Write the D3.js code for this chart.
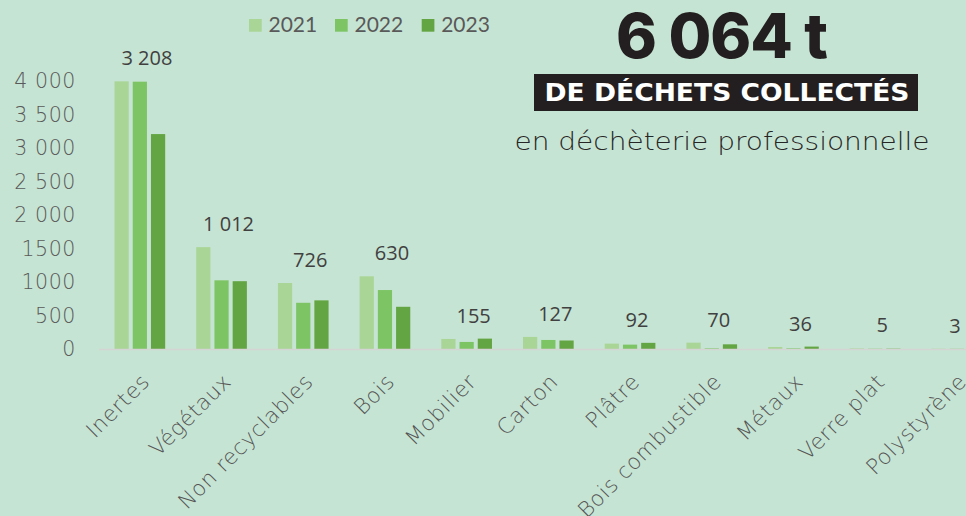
<!DOCTYPE html>
<html>
<head>
<meta charset="utf-8">
<script src="https://cdn.jsdelivr.net/npm/d3@7.9.0/dist/d3.min.js"></script>
<style>
  body { margin: 0; background: #c6e4d3; }
  svg { display: block; }
</style>
</head>
<body>
<svg id="chart" width="966" height="516"></svg>
<script>
const categories = ['Inertes', 'Végétaux', 'Non recyclables', 'Bois', 'Mobilier', 'Carton',
    'Plâtre', 'Bois combustible', 'Métaux', 'Verre plat', 'Polystyrène'];
const years = ['2021', '2022', '2023'];
const values2021 = [3995, 1520, 985, 1085, 150, 180, 80, 95, 30, 8, 4];
const values2022 = [3990, 1025, 690, 880, 105, 135, 65, 10, 10, 4, 3];
const values2023 = [3208, 1012, 726, 630, 155, 127, 92, 70, 36, 5, 3];
const yTicks = [0, 500, 1000, 1500, 2000, 2500, 3000, 3500, 4000];
const yTickLabels = ['0', '500', '1000', '1500', '2 000', '2 500', '3 000', '3 500', '4 000'];
const colors = ['#a9d596', '#7dc564', '#64a543'];

let series = [values2021, values2022, values2023];
let svg = d3.select('#chart');

let x0 = d3.scaleBand()
    .domain(categories)
    .range([99, 99 + 11 * 81.7])
    .paddingInner(0.38)
    .paddingOuter(0.19);

let x1 = d3.scaleBand()
    .domain(years)
    .range([0, x0.bandwidth()])
    .paddingInner(0.22);

let y = d3.scaleLinear().domain([0, 4000]).range([349, 81]);

let fr = d3.formatLocale({ decimal: ',', thousands: ' ', grouping: [3], currency: ['', ' €'] });
let fmt = fr.format(',d');

// y axis labels
let yAxis = d3.axisLeft(y)
    .tickValues(yTicks)
    .tickFormat((d, i) => yTickLabels[i])
    .tickSize(0)
    .tickPadding(0);

let yg = svg.append('g')
    .attr('transform', 'translate(76,0)')
    .call(yAxis);
yg.select('.domain').remove();
yg.selectAll('text')
    .attr('fill', '#595959')
    .attr('font-family', 'DejaVu Sans')
    .attr('font-weight', 200)
    .attr('font-size', 20.5)
    .attr('letter-spacing', 0.6);

// bars
categories.forEach((cat, i) => {
    let g = svg.append('g').attr('transform', `translate(${x0(cat)},0)`);
    years.forEach((yr, j) => {
        let v = series[j][i];
        g.append('rect')
            .attr('x', x1(yr))
            .attr('y', y(v))
            .attr('width', x1.bandwidth())
            .attr('height', y(0) - y(v))
            .attr('fill', colors[j]);
    });

    let cx = x0(cat) + x0.bandwidth() / 2;

    // total label (2023 value)
    let top = d3.max(series, (s) => s[i]);
    svg.append('text')
        .attr('x', Math.min(cx + 7, 955))
        .attr('y', y(top) - 16)
        .attr('text-anchor', 'middle')
        .attr('fill', '#404040')
        .attr('font-family', 'Open Sans')
        .attr('font-size', 20)
        .text(fmt(values2023[i]));

    // category label
    svg.append('text')
        .attr('transform', `translate(${cx + 11},383) rotate(-45)`)
        .attr('text-anchor', 'end')
        .attr('fill', '#555555')
        .attr('font-family', 'DejaVu Sans')
        .attr('font-size', 21.5)
        .attr('letter-spacing', 0.6)
        .style('font-weight', 300)
        .text(cat);
});

// baseline
svg.append('line')
    .attr('x1', 99).attr('x2', 966)
    .attr('y1', y(0) + 0.5).attr('y2', y(0) + 0.5)
    .attr('stroke', '#d4d4d4')
    .attr('stroke-width', 1.5);

// legend
let legendX = [249, 335, 421.7];
years.forEach((yr, j) => {
    svg.append('rect')
        .attr('x', legendX[j]).attr('y', 19)
        .attr('width', 12.7).attr('height', 12.7)
        .attr('fill', colors[j]);
    svg.append('text')
        .attr('x', legendX[j] + 19.5).attr('y', 32)
        .attr('fill', '#595959')
        .attr('font-family', 'Lato')
        .attr('font-size', 21)
        .text(yr);
});

// headline block
let total = d3.sum(values2023);
svg.append('text')
    .attr('x', 722).attr('y', 58)
    .attr('text-anchor', 'middle')
    .attr('fill', '#231f20')
    .attr('font-family', 'Inter')
    .attr('font-weight', 800)
    .attr('font-size', 62)
    .attr('textLength', 212)
    .attr('lengthAdjust', 'spacing')
    .text(fmt(total) + ' t');

svg.append('rect')
    .attr('x', 534).attr('y', 74)
    .attr('width', 384).attr('height', 37)
    .attr('fill', '#231f20');

svg.append('text')
    .attr('x', 727).attr('y', 101)
    .attr('text-anchor', 'middle')
    .attr('fill', '#ffffff')
    .attr('font-family', 'DejaVu Sans')
    .attr('font-weight', 700)
    .attr('font-size', 25)
    .attr('textLength', 365)
    .attr('lengthAdjust', 'spacingAndGlyphs')
    .text('DE DÉCHETS COLLECTÉS');

svg.append('text')
    .attr('x', 722).attr('y', 150)
    .attr('text-anchor', 'middle')
    .attr('fill', '#262626')
    .attr('font-family', 'DejaVu Sans')
    .attr('font-size', 24)
    .attr('textLength', 415)
    .attr('lengthAdjust', 'spacingAndGlyphs')
    .style('font-weight', 300)
    .text('en déchèterie professionnelle');
</script>
</body>
</html>
